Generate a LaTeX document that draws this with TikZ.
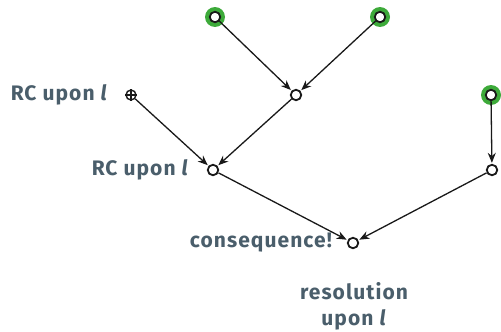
\documentclass[tikz,border=0pt]{standalone}
\usepackage{fontspec}
\setmainfont{Fira Sans}[LetterSpace=5]
\usetikzlibrary{arrows.meta}
\definecolor{labelgray}{HTML}{4A5E6B}
\definecolor{leafgreen}{HTML}{3DAA3A}
\tikzset{
  vert/.style={circle,draw=black!90,line width=1.8pt,fill=white,inner sep=0pt,minimum size=10.5pt},
  edge/.style={draw=black!90,line width=1.3pt,-{Stealth[length=10pt,width=8pt]},shorten >=1pt},
  lbl/.style={font=\bfseries\fontsize{21}{26}\selectfont,text=labelgray,inner sep=0pt}
}
\newcommand{\litl}{\textit{l}}
\begin{document}
\begin{tikzpicture}[x=1pt,y=-1pt]
\useasboundingbox (0,0) rectangle (501,332);
% green halos under the premises
\foreach \p in {(215,17),(380,17),(491,95)}
  \fill[leafgreen] \p circle (10pt);
\node[vert] (a) at (215,17) {};
\node[vert] (b) at (380,17) {};
\node[vert] (m) at (296,95) {};
\node[vert] (r1) at (491,95) {};
\node[vert] (r2) at (492,170) {};
\node[vert] (rc) at (213,170) {};
\node[vert] (c) at (353,243) {};
% oplus vertex
\node[circle,draw=black!90,line width=1.4pt,fill=white,inner sep=0pt,minimum size=10pt] (p) at (131,95) {};
\draw[black!90,line width=1.2pt] (p.north) -- (p.south) (p.west) -- (p.east);
\path[edge] (a) -- (m);
\path[edge] (b) -- (m);
\path[edge] (p) -- (rc);
\path[edge] (m) -- (rc);
\path[edge] (rc) -- (c);
\path[edge] (r2) -- (c);
\path[edge] (r1) -- (r2);
\node[lbl,anchor=east] (t1) at (108,95) {RC upon \litl};
\node[lbl,anchor=east] (t2) at (189,170) {RC upon \litl};
\node[lbl,anchor=east] (t3) at (332,243) {consequence!};
\node[lbl,align=center] (t4) at (354,306) {resolution\\upon \litl};
\end{tikzpicture}
\end{document}
